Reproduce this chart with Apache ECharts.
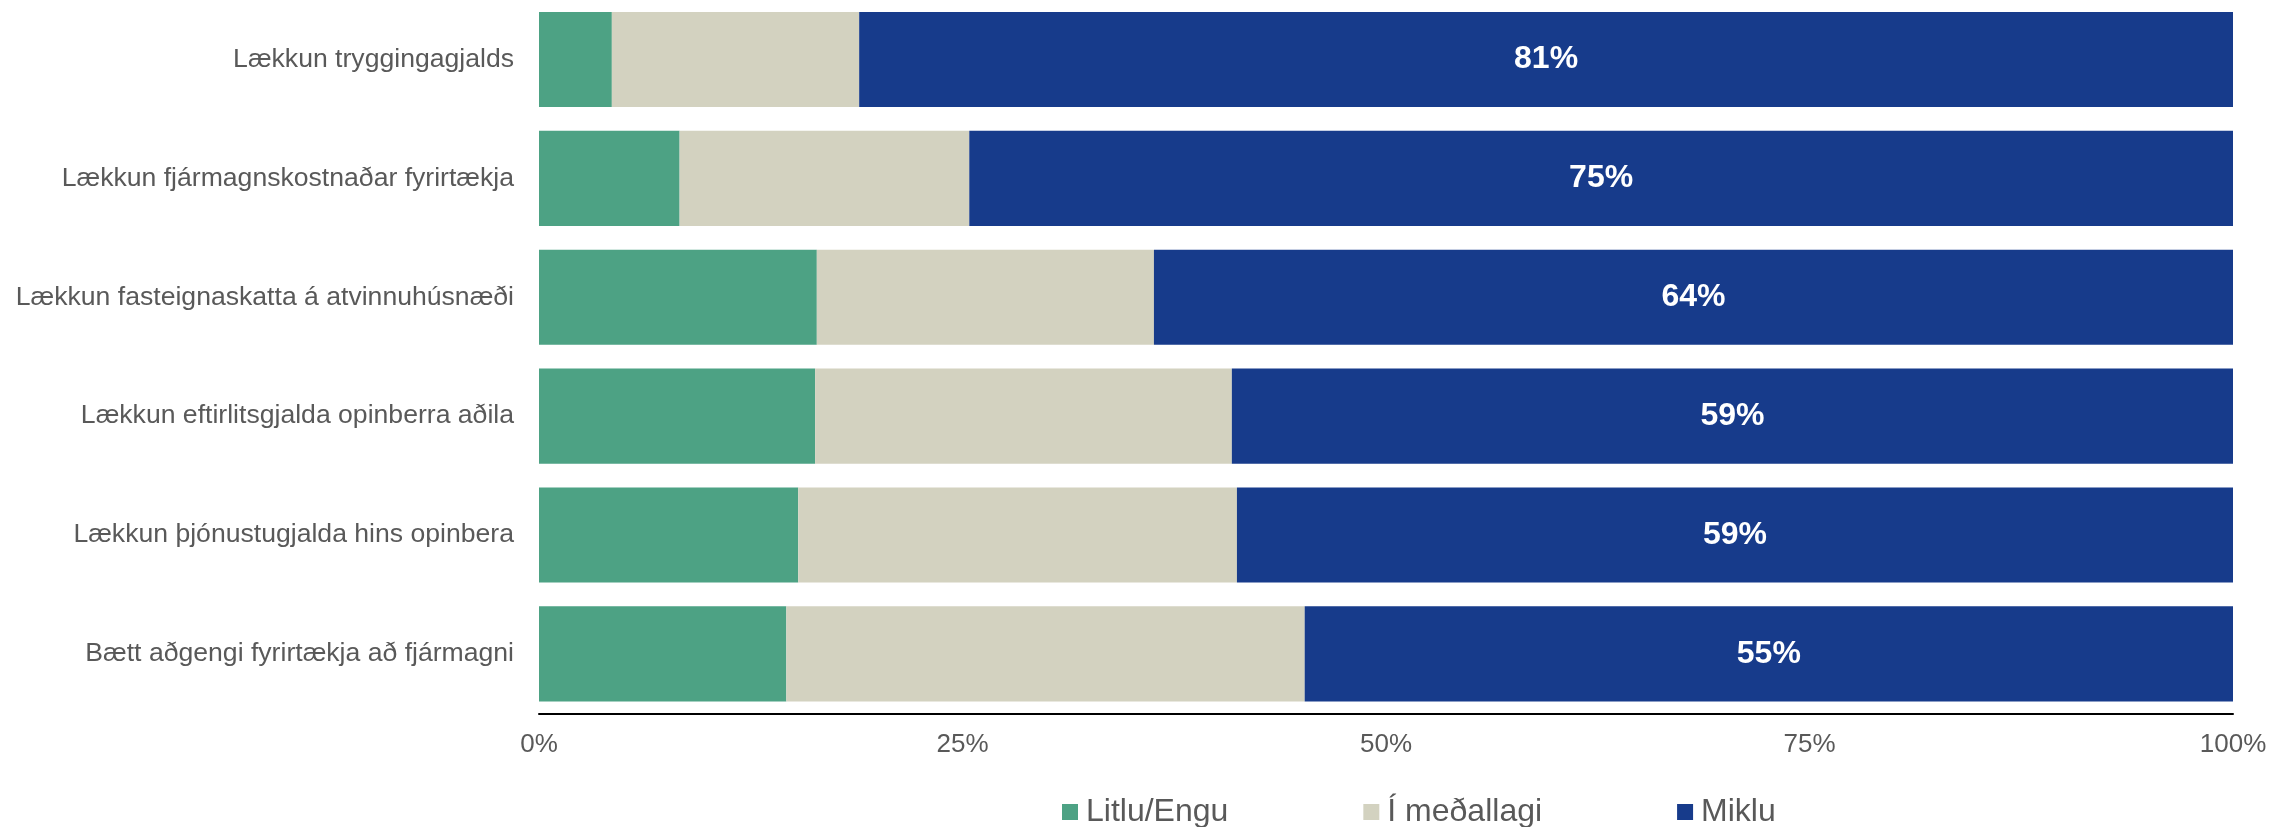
<!DOCTYPE html>
<html>
<head>
<meta charset="utf-8">
<script src="https://cdn.jsdelivr.net/npm/echarts@6/dist/echarts.min.js"></script>
<style>
html,body{margin:0;padding:0;background:#fff;}
#chart{width:2292px;height:827px;}
</style>
</head>
<body>
<div id="chart"></div>
<script>
const categories = [
  'Lækkun tryggingagjalds',
  'Lækkun fjármagnskostnaðar fyrirtækja',
  'Lækkun fasteignaskatta á atvinnuhúsnæði',
  'Lækkun eftirlitsgjalda opinberra aðila',
  'Lækkun þjónustugjalda hins opinbera',
  'Bætt aðgengi fyrirtækja að fjármagni'
];
const seriesNames = ['Litlu/Engu', 'Í meðallagi', 'Miklu'];
const litluEngu = [4.3, 8.3, 16.4, 16.3, 15.3, 14.6];
const imedallagi = [14.6, 17.1, 19.9, 24.6, 25.9, 30.6];
const miklu = [81.1, 74.6, 63.7, 59.1, 58.8, 54.8];
const xTicks = [0, 25, 50, 75, 100];

const colors = ['#4DA284', '#D3D2C0', '#173B8B'];
const FONT = '"Liberation Sans", Arial, sans-serif';

const chart = echarts.init(document.getElementById('chart'), null, {renderer: 'canvas'});
const dataSets = [litluEngu, imedallagi, miklu];

chart.setOption({
  animation: false,
  backgroundColor: '#ffffff',
  textStyle: {fontFamily: FONT},
  grid: {left: 539, right: 59, top: -2.4, bottom: 113.7, containLabel: false},
  legend: {
    data: seriesNames,
    left: 1062,
    top: 796,
    padding: 0,
    icon: 'rect',
    itemWidth: 16,
    itemHeight: 16,
    itemGap: 135,
    textStyle: {fontSize: 32, color: '#595959', fontFamily: FONT, padding: [0, 0, 0, 3]}
  },
  xAxis: {
    type: 'value',
    min: xTicks[0],
    max: xTicks[xTicks.length - 1],
    interval: xTicks[1] - xTicks[0],
    axisLine: {show: true, lineStyle: {color: '#000', width: 2}},
    axisTick: {show: false},
    splitLine: {show: false},
    axisLabel: {formatter: '{value}%', fontSize: 26, color: '#595959', margin: 19, fontFamily: FONT}
  },
  yAxis: {
    type: 'category',
    inverse: true,
    data: categories,
    axisLine: {show: false},
    axisTick: {show: false},
    axisLabel: {fontSize: 26.6, color: '#595959', margin: 25, fontFamily: FONT}
  },
  series: seriesNames.map((name, i) => ({
    name: name,
    type: 'bar',
    stack: 'total',
    barCategoryGap: '20%',
    itemStyle: {color: colors[i]},
    data: dataSets[i],
    label: i === 2 ? {
      show: true,
      position: 'inside',
      color: '#fff',
      fontWeight: 'bold',
      fontSize: 32,
      fontFamily: FONT,
      formatter: p => Math.round(p.value) + '%'
    } : {show: false}
  }))
});
</script>
</body>
</html>
